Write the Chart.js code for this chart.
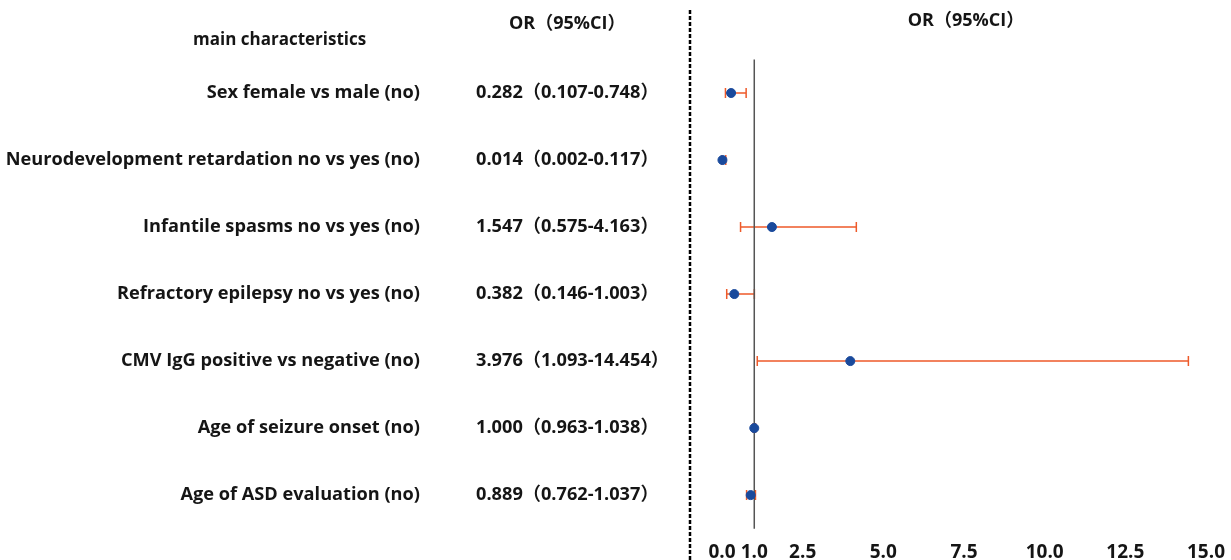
<!DOCTYPE html>
<html>
<head>
<meta charset="utf-8">
<script src="https://cdn.jsdelivr.net/npm/chart.js@4/dist/chart.umd.min.js"></script>
<style>
  html, body { margin: 0; padding: 0; background: #fff; }
  #wrap { width: 1231px; height: 560px; }
</style>
</head>
<body>
<div id="wrap"><canvas id="forest" width="1231" height="560"></canvas></div>
<script>
const factors = [
    'Sex female vs male (no)',
    'Neurodevelopment retardation no vs yes (no)',
    'Infantile spasms no vs yes (no)',
    'Refractory epilepsy no vs yes (no)',
    'CMV IgG positive vs negative (no)',
    'Age of seizure onset (no)',
    'Age of ASD evaluation (no)'
];
const oddsRatio = [0.282, 0.014, 1.547, 0.382, 3.976, 1.000, 0.889];
const ciLow = [0.107, 0.002, 0.575, 0.146, 1.093, 0.963, 0.762];
const ciHigh = [0.748, 0.117, 4.163, 1.003, 14.454, 1.038, 1.037];
const orText = [
    '0.282（0.107-0.748）',
    '0.014（0.002-0.117）',
    '1.547（0.575-4.163）',
    '0.382（0.146-1.003）',
    '3.976（1.093-14.454）',
    '1.000（0.963-1.038）',
    '0.889（0.762-1.037）'
];
const xTicks = [0, 1, 2.5, 5, 7.5, 10, 12.5, 15];
const refValue = 1;

const FONT = '"Open Sans", "Noto Sans CJK SC", sans-serif';
const TEXT = '#151515';

const forestText = {
    id: 'forestText',
    beforeDatasetsDraw(chart) {
        const {ctx, scales: {x, y}} = chart;
        ctx.save();
        ctx.strokeStyle = '#ee5a2a';
        ctx.lineWidth = 1.5;
        oddsRatio.forEach((v, i) => {
            const py = y.getPixelForValue(i);
            const x1 = x.getPixelForValue(ciLow[i]);
            const x2 = x.getPixelForValue(ciHigh[i]);
            ctx.beginPath();
            ctx.moveTo(x1, py); ctx.lineTo(x2, py);
            ctx.moveTo(x1, py - 5); ctx.lineTo(x1, py + 5);
            ctx.moveTo(x2, py - 5); ctx.lineTo(x2, py + 5);
            ctx.stroke();
        });
        ctx.restore();
    },
    afterDraw(chart) {
        const {ctx, chartArea, scales: {y}} = chart;
        ctx.save();
        // dashed divider
        ctx.strokeStyle = '#000';
        ctx.lineWidth = 2.5;
        ctx.setLineDash([4, 2]);
        ctx.beginPath();
        ctx.moveTo(chartArea.left - 32, 10);
        ctx.lineTo(chartArea.left - 32, 560);
        ctx.stroke();
        ctx.setLineDash([]);

        ctx.fillStyle = TEXT;
        ctx.font = 'bold 18.2px ' + FONT;
        ctx.textBaseline = 'middle';
        factors.forEach((name, i) => {
            const py = y.getPixelForValue(i);
            ctx.textAlign = 'right';
            ctx.fillText(name, 420, py);
            ctx.textAlign = 'left';
            ctx.fillText(orText[i], 476, py);
        });
        ctx.font = 'bold 17px ' + FONT;
        ctx.textAlign = 'left';
        ctx.fillText('main characteristics', 193, 40);
        ctx.font = 'bold 18px ' + FONT;
        ctx.fillText('OR（95%CI）', 509, 24);
        ctx.textAlign = 'center';
        ctx.fillText('OR（95%CI）', 966, 21);
        ctx.restore();
    }
};

new Chart(document.getElementById('forest').getContext('2d'), {
    type: 'scatter',
    data: {
        datasets: [{
            data: oddsRatio.map((v, i) => ({x: v, y: i})),
            backgroundColor: '#1a4a9c',
            borderColor: '#1a4a9c',
            pointRadius: 4.5,
            clip: false,
            order: 0
        }, {
            type: 'line',
            data: [{x: refValue, y: -0.5}, {x: refValue, y: factors.length - 0.5}],
            borderColor: '#555',
            borderWidth: 1.5,
            pointRadius: 0,
            order: 1
        }]
    },
    plugins: [forestText],
    options: {
        responsive: false,
        animation: false,
        layout: {
            padding: {left: 722, right: 25, top: 26, bottom: 0}
        },
        scales: {
            x: {
                type: 'linear',
                min: 0,
                max: 15,
                afterBuildTicks: (axis) => {
                    axis.ticks = xTicks.map(v => ({value: v}));
                },
                afterFit: (axis) => {
                    axis.height = 24;
                },
                grid: {
                    display: false,
                    drawTicks: false
                },
                border: {
                    display: false
                },
                ticks: {
                    maxRotation: 0,
                    autoSkip: false,
                    padding: 5,
                    color: TEXT,
                    font: {
                        family: FONT,
                        size: 19,
                        weight: 'bold'
                    },
                    callback: (v) => v.toFixed(1)
                }
            },
            y: {
                type: 'linear',
                reverse: true,
                min: -1,
                max: 6.61,
                display: false
            }
        },
        plugins: {
            legend: {
                display: false
            },
            tooltip: {
                enabled: false
            }
        }
    }
});
</script>
</body>
</html>
